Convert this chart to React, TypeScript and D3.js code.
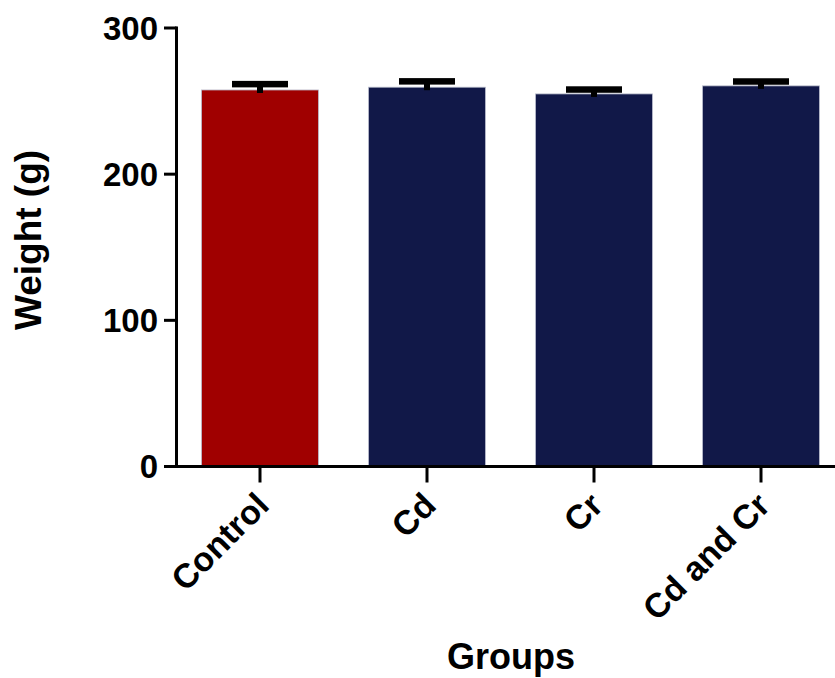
import React from "react";
import * as d3 from "d3";

const categories = ["Control", "Cd", "Cr", "Cd and Cr"];
const means = [257.6, 259.5, 254.9, 260.4];
const errors = [4, 4, 3, 3];
const colors = ["#A00000", "#111848", "#111848", "#111848"];
const yTicks = [0, 100, 200, 300];

const W = 835;
const H = 678;
const FONT = "'Liberation Sans', Arial, Helvetica, sans-serif";

export default function App() {
  const x = d3
    .scaleBand<string>()
    .domain(categories)
    .range([176.5, 844.5])
    .paddingInner(0.3)
    .paddingOuter(0.15);
  const y = d3.scaleLinear().domain([0, 300]).range([466.5, 28]);
  const axisX = 176.5;
  const baseY = y(0);
  const bw = x.bandwidth();
  const capW = 56;
  const capH = 6.5;
  const stemW = 6;

  return (
    <svg
      width={W}
      height={H}
      style={{ position: "absolute", left: 0, top: 0, background: "#fff" }}
      fontFamily={FONT}
    >
      {categories.map((c, i) => {
        const x0 = x(c)!;
        const cx = x0 + bw / 2;
        const top = y(means[i]);
        const capY = y(means[i] + errors[i]);
        return (
          <g key={c}>
            <rect
              x={x0}
              y={top}
              width={bw}
              height={baseY - top}
              fill={colors[i]}
              stroke="#b8bccc"
              strokeWidth={0.8}
            />
            <rect x={cx - stemW / 2} y={capY} width={stemW} height={top - capY + 3} fill="#000" />
            <rect x={cx - capW / 2} y={capY - capH / 2} width={capW} height={capH} fill="#000" />
          </g>
        );
      })}
      {/* y axis */}
      <line x1={axisX} x2={axisX} y1={y(300) - 1.5} y2={baseY + 1.5} stroke="#000" strokeWidth={3} />
      {yTicks.map((t) => (
        <g key={t}>
          <line x1={164} x2={axisX} y1={y(t)} y2={y(t)} stroke="#000" strokeWidth={3} />
          <text
            x={158}
            y={y(t)}
            dy="0.36em"
            textAnchor="end"
            fontSize={33}
            fontWeight="bold"
            fill="#000"
          >
            {t}
          </text>
        </g>
      ))}
      {/* x axis */}
      <line x1={164} x2={835} y1={baseY} y2={baseY} stroke="#000" strokeWidth={3} />
      {categories.map((c) => {
        const cx = x(c)! + bw / 2;
        return (
          <g key={c}>
            <line x1={cx} x2={cx} y1={baseY} y2={baseY + 16} stroke="#000" strokeWidth={3} />
            <text
              transform={`translate(${cx - 6},${baseY + 24}) rotate(-45)`}
              textAnchor="end"
              dy="0.7em"
              fontSize={34}
              fontWeight="bold"
              fill="#000"
            >
              {c}
            </text>
          </g>
        );
      })}
      <text
        x={511}
        y={669}
        textAnchor="middle"
        fontSize={36}
        fontWeight="bold"
        fill="#000"
      >
        Groups
      </text>
      <text
        transform={`translate(41,240) rotate(-90)`}
        textAnchor="middle"
        fontSize={37}
        fontWeight="bold"
        fill="#000"
      >
        Weight (g)
      </text>
    </svg>
  );
}
